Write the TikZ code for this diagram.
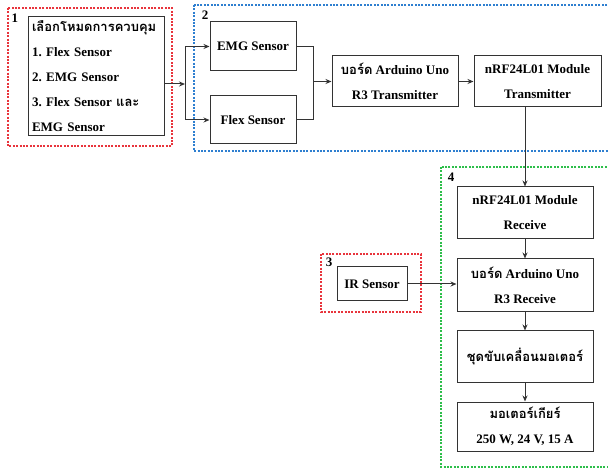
\documentclass[tikz,border=0pt]{standalone}
\usepackage{fontspec}
\setmainfont{Liberation Serif}
\newfontfamily\thaifont[Script=Thai]{Loma}
\newcommand\thx[1]{{\thaifont #1}}
\usetikzlibrary{arrows.meta}
\frenchspacing
\definecolor{lncol}{HTML}{333333}
\definecolor{fr1}{HTML}{E8343C}
\definecolor{fr2}{HTML}{2E7FD0}
\definecolor{fr4}{HTML}{2DBE4A}
\tikzset{
  blk/.style={draw=lncol, line width=1pt, inner sep=0pt, align=center,
    font=\fontsize{13}{25}\selectfont\bfseries},
  frame/.style={line width=1.3pt, dash pattern=on 2pt off 1.4pt},
  lbl/.style={font=\fontsize{13}{15}\selectfont\bfseries, inner sep=0pt},
  conn/.style={draw=lncol, line width=1pt},
  arr/.style={conn, -{Stealth[length=6pt,width=5pt]}},
}
\begin{document}
\begin{tikzpicture}[x=1pt,y=-1pt]
\clip (0,0) rectangle (608,470);
\fill[white] (0,0) rectangle (608,470);
% frames
\draw[frame, fr1] (8,8) rectangle (172,146);
\draw[frame, fr2] (194,5) rectangle (620,151);
\draw[frame, fr1] (321,254) rectangle (421,312);
\draw[frame, fr4] (441,167) rectangle (620,467);
\node[lbl] (l1) at (15,18) {1};
\node[lbl] (l2) at (205,15) {2};
\node[lbl] (l3) at (329,262) {3};
\node[lbl] (l4) at (451,177) {4};
% nodes
\node[blk, minimum width=136, minimum height=119, text width=128, align=left] (n1) at (96,76.5)
  {\thx{เลือกโหมดการควบคุม}\\1. Flex Sensor\\2. EMG Sensor\\3. Flex Sensor \thx{และ}\\EMG Sensor};
\node[blk, minimum width=86, minimum height=49] (emg) at (253,46.5) {EMG Sensor};
\node[blk, minimum width=86, minimum height=48] (flex) at (253,120) {Flex Sensor};
\node[blk, minimum width=126, minimum height=51] (txb) at (395,81.5) {\thx{บอร์ด} Arduino Uno\\R3 Transmitter};
\node[blk, minimum width=127, minimum height=51] (txn) at (537.5,81.5) {nRF24L01 Module\\Transmitter};
\node[blk, minimum width=136, minimum height=52] (rxn) at (525,213) {nRF24L01 Module\\Receive};
\node[blk, minimum width=136, minimum height=53] (rxb) at (525,285.5) {\thx{บอร์ด} Arduino Uno\\R3 Receive};
\node[blk, minimum width=136, minimum height=52] (drv) at (525,357) {\thx{ชุดขับเคลื่อนมอเตอร์}};
\node[blk, minimum width=136, minimum height=49] (gear) at (525,426.5) {\thx{มอเตอร์เกียร์}\\250 W, 24 V, 15 A};
\node[blk, minimum width=70, minimum height=34] (ir) at (372,284) {IR Sensor};
% connectors
\coordinate (split) at (185,84);
\coordinate (merge) at (313,81.5);
\draw[arr] (n1.east |- split) -- (split);
\draw[arr] (split) |- (emg.west);
\draw[arr] (split) |- (flex.west);
\draw[conn] (emg.east) -| (merge);
\draw[conn] (flex.east) -| (merge);
\draw[arr] (merge) -- (txb.west);
\draw[arr] (txb.east) -- (txn.west);
\draw[arr] (txn.south -| rxn.north) -- (rxn.north);
\draw[arr] (rxn.south) -- (rxb.north);
\draw[arr] (rxb.south) -- (drv.north);
\draw[arr] (drv.south) -- (gear.north);
\draw[arr] (ir.east) -- (ir.east -| rxb.west);
\end{tikzpicture}
\end{document}
